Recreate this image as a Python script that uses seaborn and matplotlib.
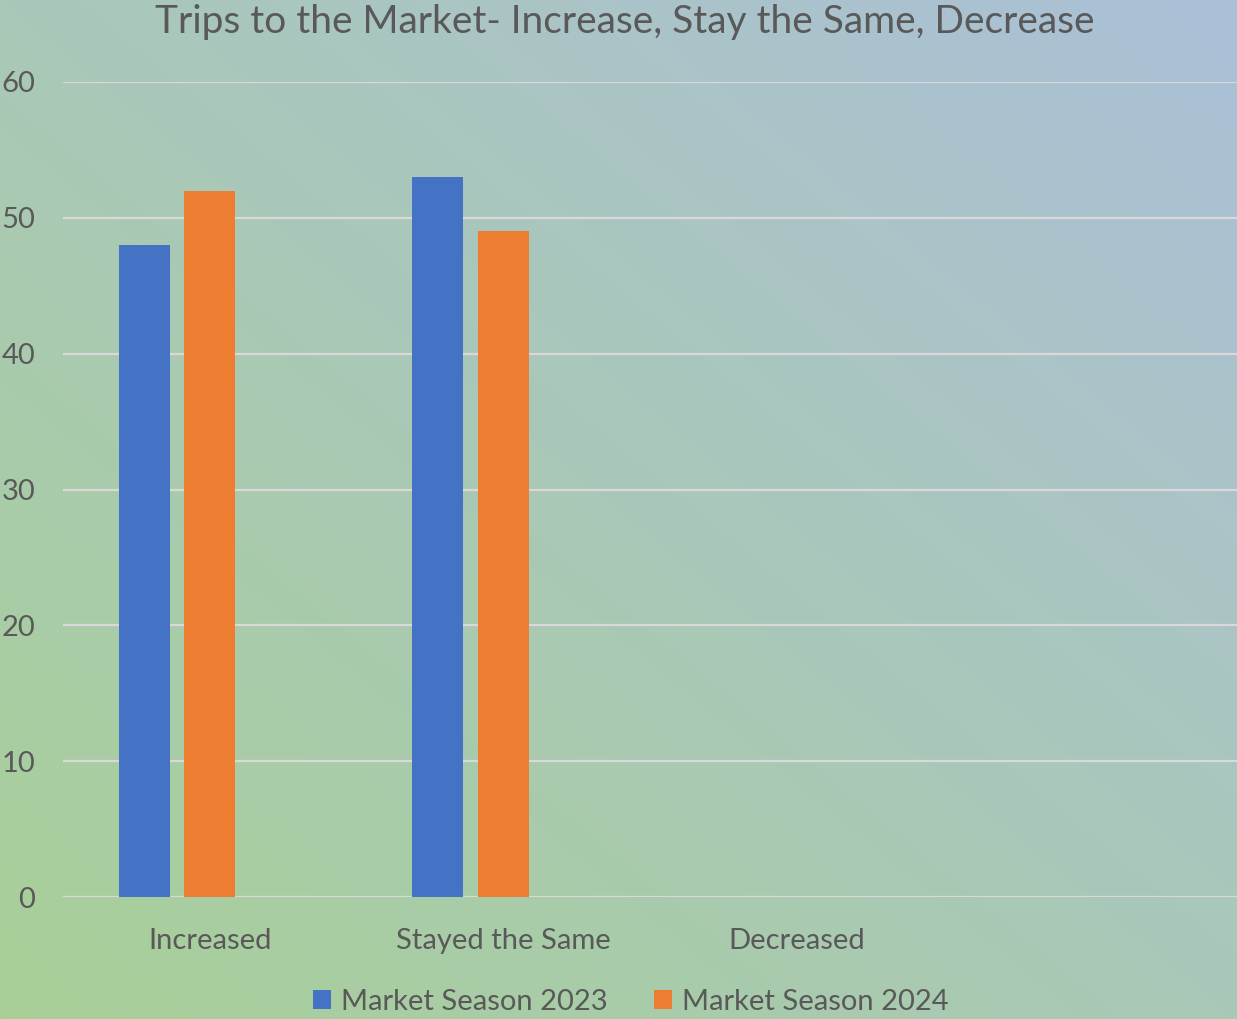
import numpy as np
import pandas as pd
import seaborn as sns
import matplotlib.pyplot as plt
from matplotlib.patches import Patch

# data
categories = ["Increased", "Stayed the Same", "Decreased", " "]
season_2023 = [48, 53, 0]
season_2024 = [52, 49, 0]
series = ["Market Season 2023", "Market Season 2024", "(blank)"]
colors = ["#4472C4", "#ED7D31", "#A5A5A5"]

rows = []
for cat, v in zip(categories[:3], season_2023):
    rows.append({"Response": cat, "Season": series[0], "Count": v})
for cat, v in zip(categories[:3], season_2024):
    rows.append({"Response": cat, "Season": series[1], "Count": v})
df = pd.DataFrame(rows)

sns.set_style("white")
plt.rcParams["font.family"] = ["Lato", "DejaVu Sans"]
text_color = "#595959"

fig = plt.figure(figsize=(12.37, 10.19), dpi=100)

# gradient background (green bottom-left -> blue top-right)
bg = fig.add_axes([0, 0, 1, 1], zorder=-10)
yy, xx = np.mgrid[0:1:200j, 0:1:200j]
t = (xx + yy) / 2
c_bl = np.array([168, 208, 152]) / 255
c_tr = np.array([171, 192, 216]) / 255
img = c_bl[None, None, :] + t[..., None] * (c_tr - c_bl)[None, None, :]
bg.imshow(img, origin="lower", extent=[0, 1, 0, 1], aspect="auto", interpolation="bilinear")
bg.axis("off")

ax = fig.add_axes([63 / 1237, 1 - 897 / 1019, 1 - 63 / 1237, (897 - 82) / 1019])
ax.patch.set_alpha(0)

sns.barplot(data=df, x="Response", y="Count", hue="Season", order=categories,
            hue_order=series, palette=dict(zip(series, colors)), width=0.67, gap=0.22,
            errorbar=None, legend=False, linewidth=0, saturation=1, ax=ax)

ax.set_xlim(-0.5, 3.5)
ax.set_ylim(0, 60)
ax.set_yticks(range(0, 61, 10))
ax.grid(axis="y", color="#D9D9D9", linewidth=1.6)
ax.set_axisbelow(True)
for s in ax.spines.values():
    s.set_visible(False)
ax.set_xlabel("")
ax.set_ylabel("")
ax.tick_params(axis="both", length=0, labelsize=21, labelcolor=text_color)
ax.tick_params(axis="x", pad=22)
ax.tick_params(axis="y", pad=20)

fig.text(0.505, 0.978, "Trips to the Market- Increase, Stay the Same, Decrease",
         ha="center", va="center", fontsize=28, color=text_color)

handles = [Patch(facecolor=colors[0], edgecolor="none", label=series[0]),
           Patch(facecolor=colors[1], edgecolor="none", label=series[1])]
fig.legend(handles=handles, loc="center", bbox_to_anchor=(0.51, 0.017), ncol=2,
           frameon=False, fontsize=21, labelcolor=text_color, handlelength=0.6,
           handleheight=0.6, handletextpad=0.35, columnspacing=1.6)

fig.savefig("out.png", dpi=100)
